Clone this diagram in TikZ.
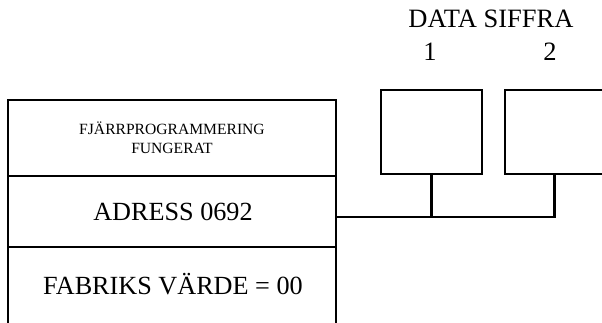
\documentclass[tikz,border=0pt]{standalone}
\usepackage{fontspec}
\setmainfont{Liberation Serif}
\begin{document}
\begin{tikzpicture}[x=1pt,y=-1pt,
  line/.style={line width=2.5pt},
  secbox/.style={inner sep=0pt, minimum width=328pt, align=center},
  databox/.style={draw, line width=2.5pt, inner sep=0pt},
  bigtxt/.style={font=\fontsize{26.2}{30}\selectfont},
  smalltxt/.style={font=\fontsize{15.6}{18.5}\selectfont},
  hdtxt/.style={font=\fontsize{26.5}{30}\selectfont}]
\useasboundingbox (0,0) rectangle (602,323);
\clip (0,0) rectangle (602,323);
% left box outline
\draw[line] (8,330) -- (8,100) -- (336,100) -- (336,330);
\draw[line] (8,176) -- (336,176);
\draw[line] (8,247) -- (336,247);
% section texts
\node[secbox, smalltxt, minimum height=76pt] (s1) at (172,138) {FJÄRRPROGRAMMERING\\FUNGERAT};
\node[secbox, bigtxt, minimum height=71pt] (s2) at (173,211.5) {ADRESS 0692};
\node[secbox, bigtxt] (s3) at (173,284) {FABRIKS VÄRDE = 00};
% data boxes
\node[databox, minimum width=101pt, minimum height=84pt] (d1) at (431.5,132) {};
\node[databox, minimum width=98.5pt, minimum height=84pt] (d2) at (554.25,132) {};
% header
\node[hdtxt, inner sep=0pt] (hd) at (491,19) {DATA SIFFRA};
\node[hdtxt, inner sep=0pt] (n1) at (430,52) {1};
\node[hdtxt, inner sep=0pt] (n2) at (550,52) {2};
% connectors
\coordinate (busL) at (336,217);
\draw[line] (busL) -- (busL -| d2.south) -- (d2.south);
\draw[line] (d1.south) -- (d1.south |- busL);
\end{tikzpicture}
\end{document}
